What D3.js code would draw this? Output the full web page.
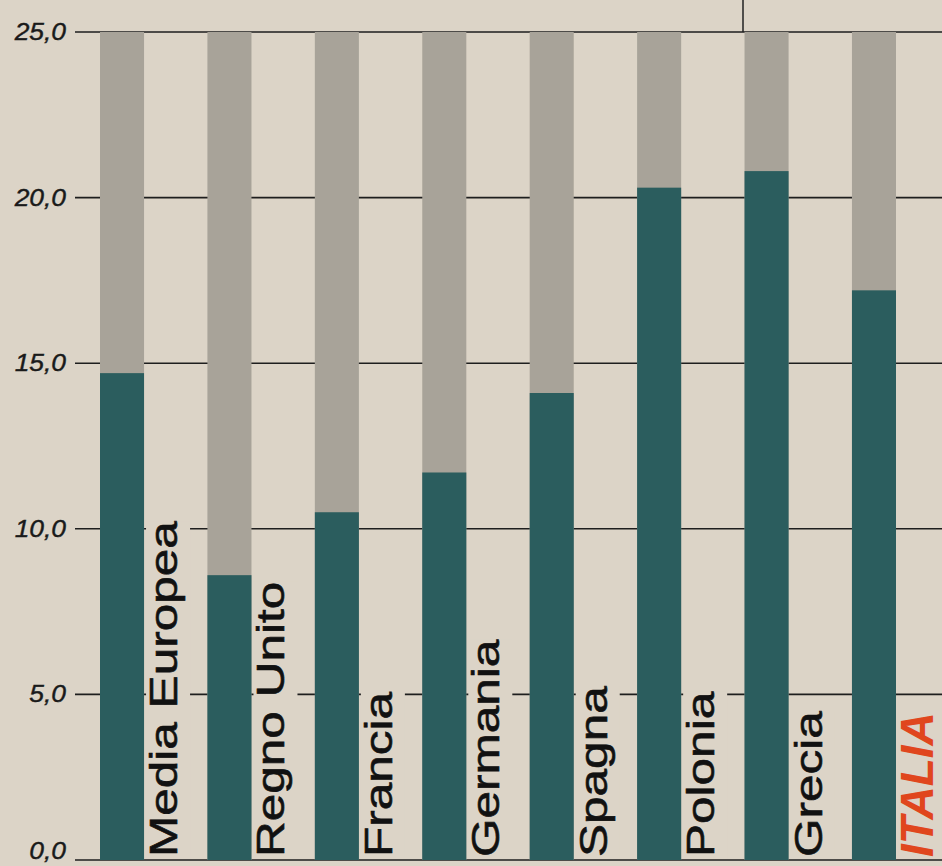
<!DOCTYPE html>
<html lang="it">
<head>
    <meta charset="UTF-8">
    <title>Grafico</title>
    <style>
        body { margin: 0; background: #dcd4c7; }
        svg { display: block; }
    </style>
</head>
<body>
<script src='https://d3js.org/d3.v7.min.js'></script>
<script>
    // dati
    var paesi = ["Media Europea", "Regno Unito", "Francia", "Germania", "Spagna", "Polonia", "Grecia", "ITALIA"];
    var valori = [14.7, 8.6, 10.5, 11.7, 14.1, 20.3, 20.8, 17.2];
    var massimo = 25;
    var tacche = [0, 5, 10, 15, 20, 25];

    var W = 942, H = 866;

    var svg = d3.select("body")
                .append("svg")
                .attr("width", W)
                .attr("height", H);

    // sfondo carta
    svg.append("rect")
        .attr("width", W)
        .attr("height", H)
        .attr("fill", "#dcd4c7");

    var x = d3.scaleBand()
              .domain(paesi)
              .range([100, 896])
              .paddingInner(0.59)
              .paddingOuter(0);

    var y = d3.scaleLinear()
              .domain([0, massimo])
              .range([860, 32]);

    var fmt = function (d) { return d3.format(".1f")(d).replace(".", ","); };

    // linea verticale in alto (resto dell'impaginazione)
    svg.append("line")
        .attr("x1", 743).attr("x2", 743)
        .attr("y1", 0).attr("y2", y(massimo))
        .attr("stroke", "#222")
        .attr("stroke-width", 1.5);

    // griglia
    svg.selectAll(".griglia")
        .data(tacche)
        .enter()
        .append("line")
        .attr("class", "griglia")
        .attr("x1", 75)
        .attr("x2", W)
        .attr("y1", function (d) { return y(d); })
        .attr("y2", function (d) { return y(d); })
        .attr("stroke", "#1e1e1e")
        .attr("stroke-width", 1.6);

    // etichette asse y (lo 0 alzato per restare nel riquadro)
    svg.selectAll(".tacca")
        .data(tacche)
        .enter()
        .append("text")
        .attr("class", "tacca")
        .attr("transform", function (d) {
            var yy = d === 0 ? y(d) - 1 : y(d) + 8;
            return "translate(66," + yy + ") scale(1.1,1)";
        })
        .attr("text-anchor", "end")
        .attr("font-family", "Liberation Sans, Arial, sans-serif")
        .attr("font-style", "italic")
        .attr("font-size", 24)
        .attr("fill", "#1a1a1a")
        .attr("stroke", "#1a1a1a")
        .attr("stroke-width", 0.4)
        .text(fmt);

    // barra chiara (totale)
    svg.selectAll(".fondo")
        .data(paesi)
        .enter()
        .append("rect")
        .attr("class", "fondo")
        .attr("x", function (d) { return x(d); })
        .attr("y", y(massimo))
        .attr("width", x.bandwidth())
        .attr("height", y(0) - y(massimo))
        .attr("fill", "#a8a399");

    // barra scura (valore)
    svg.selectAll(".barra")
        .data(paesi)
        .enter()
        .append("rect")
        .attr("class", "barra")
        .attr("x", function (d) { return x(d); })
        .attr("y", function (d, i) { return y(valori[i]); })
        .attr("width", x.bandwidth())
        .attr("height", function (d, i) { return y(0) - y(valori[i]); })
        .attr("fill", "#2b5d5e");

    // etichette dei paesi, verticali
    paesi.forEach(function (p, i) {
        var italia = (p === "ITALIA");
        var bx = x(p) + x.bandwidth();
        var base = bx + (italia ? 37 : 33);
        var sc = italia ? 1 : 1.27;

        var g = svg.append("g");
        var box = g.append("rect");
        var t = g.append("text")
            .attr("transform", "translate(" + base + ",857) rotate(-90) scale(" + sc + ",1)")
            .attr("font-family", "Liberation Sans, Arial, sans-serif")
            .attr("font-size", italia ? 46 : 39)
            .attr("font-weight", italia ? "bold" : "normal")
            .attr("font-style", italia ? "italic" : "normal")
            .attr("fill", italia ? "#e0461d" : "#111")
            .attr("stroke", italia ? "none" : "#111")
            .attr("stroke-width", 0.6)
            .text(p);

        // fondo carta dietro la scritta, copre la griglia
        var len = t.node().getComputedTextLength() * sc;
        box.attr("x", bx + 2)
           .attr("y", 857 - len)
           .attr("width", 44)
           .attr("height", len + 2)
           .attr("fill", "#dcd4c7");
    });
</script>
</body>
</html>
